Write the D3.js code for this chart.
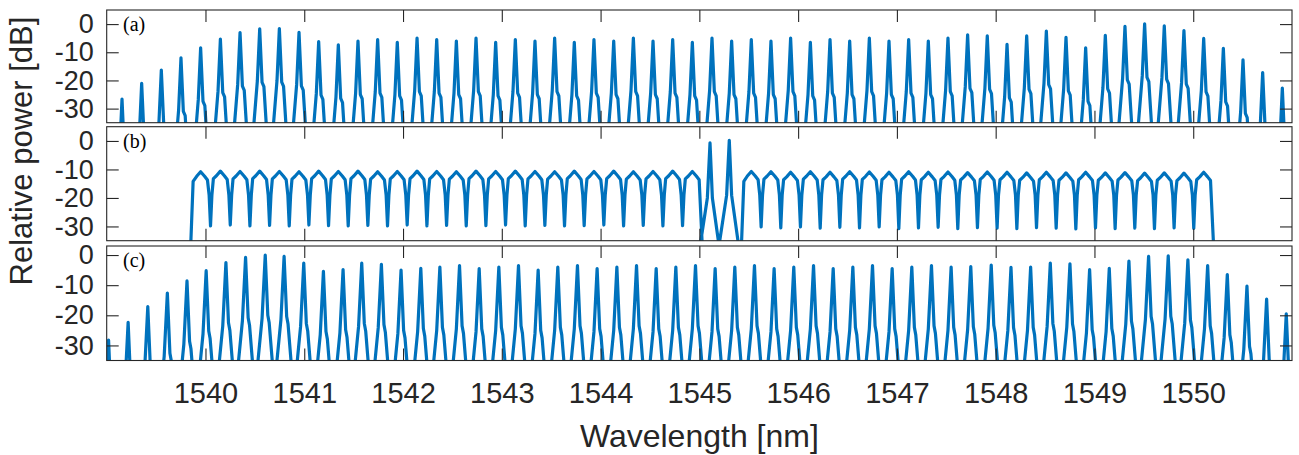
<!DOCTYPE html>
<html><head><meta charset="utf-8">
<script src="https://cdn.jsdelivr.net/npm/d3@7"></script>
<style>body{margin:0;background:#fff}svg{display:block}</style>
</head><body><svg id="chart" width="1299" height="455"></svg>
<script>
// ---------- data ----------
const xTicks = [1540,1541,1542,1543,1544,1545,1546,1547,1548,1549,1550];
const yTicks = [0,-10,-20,-30];
const panelLabels = ["(a)","(b)","(c)"];

// (a) comb line wavelengths [nm] and peak powers [dB]
const combA = [1539.155,1539.354,1539.553,1539.752,1539.951,1540.151,1540.350,1540.549,1540.748,1540.947,
  1541.146,1541.345,1541.544,1541.743,1541.942,1542.142,1542.341,1542.540,1542.739,1542.938,
  1543.137,1543.336,1543.535,1543.734,1543.933,1544.133,1544.332,1544.531,1544.730,1544.929,
  1545.128,1545.327,1545.526,1545.725,1545.924,1546.124,1546.323,1546.522,1546.721,1546.920,
  1547.119,1547.318,1547.517,1547.716,1547.915,1548.115,1548.314,1548.513,1548.712,1548.911,
  1549.110,1549.309,1549.508,1549.707,1549.906,1550.106,1550.305,1550.504,1550.703,1550.902];
const powA = [-26.6,-21.0,-16.3,-12.0,-8.4,-5.3,-3.0,-1.7,-1.6,-2.9,
  -6.2,-7.4,-6.0,-5.5,-6.5,-5.0,-5.5,-6.0,-5.0,-6.5,
  -5.5,-6.0,-5.0,-6.5,-5.5,-6.0,-5.0,-6.0,-5.5,-6.5,
  -5.0,-6.0,-5.5,-6.0,-5.0,-6.5,-5.5,-6.0,-5.0,-6.0,
  -5.5,-6.0,-5.0,-3.8,-4.2,-7.2,-4.2,-2.5,-4.7,-8.4,
  -4.0,-0.8,0.1,-0.6,-2.3,-5.1,-8.6,-12.7,-17.2,-22.7];

// (b) flat-top band: centre wavelengths of each block, apex and dip powers [dB]
const bandB1 = [1539.951,1540.151,1540.350,1540.549,1540.748,1540.947,1541.146,1541.345,1541.544,1541.743,
  1541.942,1542.142,1542.341,1542.540,1542.739,1542.938,1543.137,1543.336,1543.535,1543.734,
  1543.933,1544.133,1544.332,1544.531,1544.730,1544.929];
const bandB2 = [1545.526,1545.725,1545.924,1546.124,1546.323,1546.522,1546.721,1546.920,1547.119,1547.318,
  1547.517,1547.716,1547.915,1548.115,1548.314,1548.513,1548.712,1548.911,1549.110,1549.309,
  1549.508,1549.707,1549.906,1550.106];
const apexB1 = [-10.8,-10.6,-10.7,-10.6,-10.7,-10.8,-10.6,-10.7,-10.6,-10.8,
  -10.7,-10.6,-10.7,-10.8,-10.6,-10.7,-10.6,-10.7,-10.8,-10.6,
  -10.7,-10.6,-10.8,-10.7,-10.6,-10.7];
const apexB2 = [-10.7,-10.8,-11.0,-10.8,-11.0,-10.8,-10.9,-11.0,-10.8,-11.0,
  -10.9,-11.1,-10.9,-11.0,-11.2,-11.0,-11.2,-11.0,-11.2,-11.1,
  -11.3,-11.2,-11.3,-11.0];
const dipB1 = [-29.8,-29.5,-29.8,-29.6,-29.8,-29.5,-29.7,-29.8,-29.6,-29.8,
  -29.5,-29.8,-29.6,-29.8,-29.7,-29.5,-29.8,-29.6,-29.8,-29.7,
  -29.5,-29.8,-29.6,-29.8,-29.7];
const dipB2 = [-30.2,-30.5,-30.2,-30.6,-30.3,-30.5,-30.2,-30.8,-30.5,-30.3,
  -30.8,-30.4,-30.6,-30.8,-30.4,-30.6,-30.9,-30.5,-30.8,-30.6,
  -30.8,-30.5,-30.7];
const spikeB = [1545.108,1545.303];
const spikePowB = [-0.7,0.2];

// (c) comb line wavelengths [nm] and peak powers [dB]
const combC = [1539.019,1539.217,1539.416,1539.614,1539.813,1540.007,1540.207,1540.406,1540.605,1540.796,
  1540.995,1541.194,1541.393,1541.582,1541.781,1541.980,1542.180,1542.373,1542.572,1542.771,
  1542.970,1543.169,1543.368,1543.567,1543.766,1543.965,1544.165,1544.364,1544.563,1544.762,
  1544.961,1545.160,1545.359,1545.558,1545.757,1545.956,1546.156,1546.355,1546.554,1546.753,
  1546.952,1547.151,1547.350,1547.549,1547.748,1547.955,1548.155,1548.354,1548.553,1548.752,
  1548.951,1549.150,1549.349,1549.548,1549.747,1549.946,1550.146,1550.345,1550.544,1550.743,
  1550.942];
const powC = [-28.2,-22.3,-17.1,-12.6,-8.6,-5.2,-2.5,-0.8,0.0,-0.4,
  -2.7,-5.4,-4.8,-2.7,-3.1,-5.0,-4.4,-4.0,-3.5,-4.5,
  -4.0,-3.5,-5.0,-4.0,-3.5,-4.5,-4.0,-3.5,-4.5,-4.0,
  -3.5,-4.5,-4.0,-3.5,-4.5,-4.0,-3.5,-4.5,-4.0,-3.5,
  -4.5,-4.0,-3.5,-4.0,-3.8,-3.3,-4.1,-4.0,-2.7,-2.9,
  -4.8,-4.4,-2.0,-0.4,-0.3,-1.6,-3.5,-6.5,-10.3,-14.6,
  -19.5];

// line-shape templates (offset from line centre [nm], level relative to apex [dB])
const shapeAoff = [-0.078,-0.024,0,0.024,0.0425,0.081];
const shapeArel = [-42,-18.5,0,-19,-20.5,-42];
const shapeCoff = [-0.088,-0.032,0,0.026,0.040,0.083];
const shapeCrel = [-40,-21,0,-20,-22.5,-40];
const shapeBoff = [-0.071,-0.040,0,0.040,0.069];
const shapeBrel = [-2.6,-1.6,0,-1.6,-2.9];
const spikeOff = [-0.100,-0.027,0,0.024,0.091];
const spikeRel = [-36,-19.3,0,-19.3,-36];

// ---------- layout ----------
const svg = d3.select("#chart");
const x = d3.scaleLinear().domain([1539,1551]).range([106.7,1292]);
const panels = [
  {top:10, bottom:122.7, dom:[-35,5]},
  {top:126.7, bottom:240.7, dom:[-35,5]},
  {top:246, bottom:360.5, dom:[-35,3]}
];
const ink = "#262626", blue = "#0072BD";
const font = "'Liberation Sans', Arial, Helvetica, sans-serif";

// ---------- build series ----------
function combSeries(wl, pw, off, rel){
  const pts = [];
  wl.forEach((c,i)=>{ off.forEach((o,j)=>pts.push([c+o, pw[i]+rel[j]])); });
  return pts;
}
const seriesA = combSeries(combA, powA, shapeAoff, shapeArel);
const seriesC = combSeries(combC, powC, shapeCoff, shapeCrel);

function bandSeries(centres, apex, dips){
  const pts = [];
  const half = (centres[1]-centres[0])/2;
  pts.push([centres[0]-half-0.004, -40]);
  pts.push([centres[0]-half+0.024, -14.2]);
  centres.forEach((c,i)=>{
    shapeBoff.forEach((o,j)=>{ if(!(i===0 && j===0)) pts.push([c+o, apex[i]+shapeBrel[j]]); });
    if(i < centres.length-1){
      pts.push([c+half-0.014, -19]);
      pts.push([c+half, dips[i]]);
      pts.push([c+half+0.014, -19]);
    }
  });
  const last = centres[centres.length-1];
  pts.push([last+half+0.005, -40]);
  return pts;
}
const seriesB = [].concat(
  bandSeries(bandB1, apexB1, dipB1),
  ...spikeB.map((s,i)=>spikeOff.map((o,j)=>[s+o, spikePowB[i]+spikeRel[j]])),
  bandSeries(bandB2, apexB2, dipB2)
);
const allSeries = [seriesA, seriesB, seriesC];

// ---------- draw ----------
panels.forEach((p,i)=>{
  const y = d3.scaleLinear().domain(p.dom).range([p.bottom, p.top]);
  const g = svg.append("g");
  const cid = "clip"+i;
  svg.append("clipPath").attr("id",cid).append("rect")
    .attr("x",x.range()[0]).attr("y",p.top)
    .attr("width",x.range()[1]-x.range()[0]).attr("height",p.bottom-p.top);

  g.append("path").datum(allSeries[i])
    .attr("clip-path",`url(#${cid})`)
    .attr("fill","none").attr("stroke",blue).attr("stroke-width",3.2)
    .attr("stroke-linejoin","round")
    .attr("d", d3.line().x(d=>x(d[0])).y(d=>y(d[1])));

  // axes
  const left = d3.axisLeft(y).tickValues(yTicks).tickSize(-12).tickSizeOuter(0).tickPadding(13).tickFormat(d3.format("d"));
  const right = d3.axisRight(y).tickValues(yTicks).tickSize(-12).tickSizeOuter(0).tickFormat("");
  const top = d3.axisTop(x).tickValues(xTicks).tickSize(-12).tickSizeOuter(0).tickFormat("");
  const bottom = d3.axisBottom(x).tickValues(xTicks).tickSize(-12).tickSizeOuter(0).tickPadding(22)
    .tickFormat(i===2 ? d3.format("d") : "");
  const gl = g.append("g").attr("transform",`translate(${x.range()[0]},0)`).call(left);
  const gr = g.append("g").attr("transform",`translate(${x.range()[1]},0)`).call(right);
  const gt = g.append("g").attr("transform",`translate(0,${p.top})`).call(top);
  const gb = g.append("g").attr("transform",`translate(0,${p.bottom})`).call(bottom);
  [gl,gr,gt,gb].forEach(a=>{
    a.selectAll(".domain").remove();
    a.selectAll("line").attr("stroke",ink).attr("stroke-width",1.1);
    a.selectAll("text").attr("fill",ink).style("font-family",font);
  });
  gl.selectAll("text").style("font-size","27px").text(d=>d===0?"0":String(d).replace("\u2212","-"));
  gb.selectAll("text").style("font-size","29px");

  g.append("rect").attr("x",x.range()[0]).attr("y",p.top)
    .attr("width",x.range()[1]-x.range()[0]).attr("height",p.bottom-p.top)
    .attr("fill","none").attr("stroke",ink).attr("stroke-width",1.1);

  g.append("text").attr("x",123).attr("y",p.top+21)
    .style("font-family","'Liberation Serif','Times New Roman',serif").style("font-size","20px")
    .attr("fill","#000").text(panelLabels[i]);
});

svg.append("text").attr("x",(x.range()[0]+x.range()[1])/2).attr("y",447)
  .attr("text-anchor","middle").style("font-family",font).style("font-size","32px")
  .attr("fill",ink).text("Wavelength [nm]");
svg.append("text").attr("transform","translate(32,151) rotate(-90)")
  .attr("text-anchor","middle").style("font-family",font).style("font-size","31px")
  .attr("fill",ink).text("Relative power [dB]");
</script></body></html>
